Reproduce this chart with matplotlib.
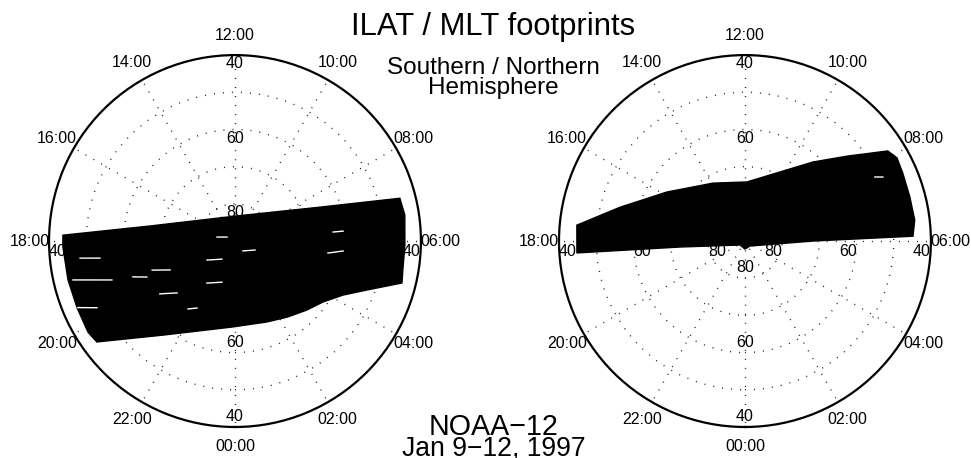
import numpy as np
import matplotlib.pyplot as plt

plt.rcParams['font.family'] = ['Liberation Sans', 'DejaVu Sans']

# dial grid
hour_ticks = [0, 2, 4, 6, 8, 10, 12, 14, 16, 18, 20, 22]
hour_labels = ['%02d:00' % h for h in hour_ticks]
lat_circles = [80, 70, 60, 50]
lat_labels = [80, 60, 40]
lat_min = 40

# Southern hemisphere footprint outline (MLT hours, ILAT degrees)
south_mlt = [17.87, 17.33, 12.0, 7.45, 6.97, 6.58, 5.91, 5.35, 5.06, 4.64, 4.23,
             3.69, 3.08, 2.29, 1.44, 23.91, 21.55, 20.41, 20.12, 19.53, 18.87, 18.13]
south_lat = [43.7, 66.8, 83.3, 65.4, 44.2, 43.8, 44.3, 44.2, 43.7, 52.2, 57.5,
             61.2, 63.2, 65.2, 66.6, 66.9, 58.5, 44.0, 43.5, 43.9, 43.9, 43.7]

# gaps between tracks (start, end)
south_gap_mlt = [(17.17, 16.23), (18.42, 18.48), (18.90, 19.17), (20.28, 21.61),
                 (5.51, 5.65), (19.29, 19.60), (21.75, 22.83), (20.34, 20.79),
                 (19.53, 19.72), (6.35, 6.35), (19.29, 19.48), (21.69, 22.03),
                 (2.58, 4.39)]
south_gap_lat = [(85.05, 87.6), (48.1, 53.4), (45.2, 55.3), (80.9, 84.0),
                 (64.8, 60.8), (66.4, 70.9), (76.4, 78.4), (65.3, 69.1),
                 (44.1, 48.8), (63.5, 60.8), (60.9, 64.4), (67.8, 69.3),
                 (86.6, 84.1)]

# Northern hemisphere footprint outline
north_mlt = [17.64, 16.99, 15.86, 13.93, 11.87, 9.29, 8.65, 8.15, 7.91, 7.55,
             7.0, 6.47, 6.11, 6.0, 3.0, 0.0, 20.58, 18.35, 18.27]
north_lat = [44.6, 55.2, 65.2, 72.2, 74.1, 62.0, 54.3, 44.6, 43.4, 43.8,
             44.1, 44.0, 44.8, 71.7, 88.1, 87.85, 88.3, 72.4, 44.7]

north_gap_mlt = [(7.75, 7.66)]
north_gap_lat = [(51.05, 49.1)]


def th(mlt):
    return np.asarray(mlt) * np.pi / 12.0


def co(lat):
    return 90.0 - np.asarray(lat)


def draw_dial(ax, mlt, lat, gap_mlt, gap_lat):
    ax.set_theta_zero_location('S')
    ax.set_theta_direction(1)
    ax.set_ylim(0, co(lat_min))
    ax.set_xticks(th(hour_ticks))
    ax.set_yticks(co(lat_circles))
    ax.set_xticklabels([])
    ax.set_yticklabels([])
    ax.set_axisbelow(True)
    ax.grid(True, color='0.1', lw=1.0, ls=(0, (0.7, 5.8)))
    ax.spines['polar'].set_linewidth(1.6)
    ax.tick_params(length=0)

    # hour labels outside the dial
    for h, s in zip(hour_ticks, hour_labels):
        ax.text(th(h), 55.3, s, ha='center', va='center', fontsize=11.5,
                clip_on=False)

    # latitude labels along the noon-midnight and dawn-dusk axes
    for la in lat_labels:
        r = co(la)
        ax.annotate(str(la), (th(12), r), xytext=(0, -1), textcoords='offset points',
                    ha='center', va='top', fontsize=11.5, zorder=1)
        ax.annotate(str(la), (th(0), r), xytext=(0, 2), textcoords='offset points',
                    ha='center', va='bottom', fontsize=11.5, zorder=1)
        ax.annotate(str(la), (th(18), r), xytext=(0, -2), textcoords='offset points',
                    ha='left', va='top', fontsize=11.5, zorder=1)
        ax.annotate(str(la), (th(6), r), xytext=(0, -2), textcoords='offset points',
                    ha='right', va='top', fontsize=11.5, zorder=1)

    # footprint area
    ax.fill(th(mlt), co(lat), color='black', lw=1.0, ec='black', zorder=2)
    for m, l in zip(gap_mlt, gap_lat):
        ax.plot(th(m), co(l), color='white', lw=1.0, zorder=2.2)


fig = plt.figure(figsize=(9.71, 4.58), dpi=100)
ax1 = fig.add_axes([0.0505, 0.0677, 0.383, 0.812], projection='polar')
ax2 = fig.add_axes([0.5757, 0.0677, 0.383, 0.812], projection='polar')

draw_dial(ax1, south_mlt, south_lat, south_gap_mlt, south_gap_lat)
draw_dial(ax2, north_mlt, north_lat, north_gap_mlt, north_gap_lat)

xc = 0.5082
fig.text(xc, 0.9236, 'ILAT / MLT footprints', ha='center', va='baseline', fontsize=22.3)
fig.text(xc, 0.8384, 'Southern / Northern', ha='center', va='baseline', fontsize=17.5)
fig.text(xc, 0.794, 'Hemisphere', ha='center', va='baseline', fontsize=17.5)
fig.text(xc, 0.0502, 'NOAA\u221212', ha='center', va='baseline', fontsize=20.6)
fig.text(xc, 0.0058, 'Jan 9\u221212, 1997', ha='center', va='baseline', fontsize=19.1)

fig.savefig('out.png', dpi=100)
